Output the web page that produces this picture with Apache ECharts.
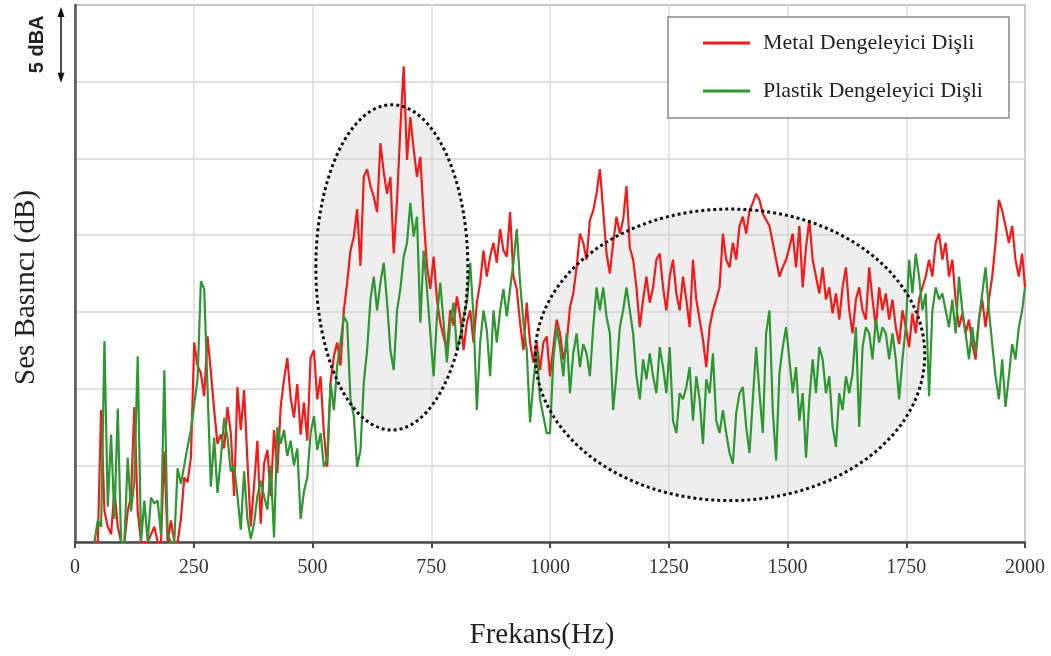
<!DOCTYPE html>
<html><head><meta charset="utf-8">
<script src="https://cdn.jsdelivr.net/npm/echarts@6/dist/echarts.min.js"></script>
<style>html,body{margin:0;padding:0;background:#fff}#c{width:1051px;height:656px}</style>
</head><body><div id="c"></div><script>
// Sampling grid: 41 Hz .. 1994 Hz every 7 Hz, plus the 2000 Hz end point
const FREQ_START = 41, FREQ_STEP = 7, FREQ_COUNT = 280, FREQ_END = 2000;
const seriesNames = ['Metal Dengeleyici Dişli', 'Plastik Dengeleyici Dişli'];
const xTickLabels = [0, 250, 500, 750, 1000, 1250, 1500, 1750, 2000];

// Sound pressure, dB above the plot floor (5 dB per gridline)
const metal = [
 0,0,8.6,2,1,0.5,3.4,1,0,0, 2,3,8.8,2,0,0,0,0.5,1,0, 0,5.9,0,1.4,0,0,1.5,4.2,3.9,5.5,
 13.0,11.5,11.0,9.5,13.4,11.1,8.6,6.4,7.0,6.1, 8.8,7.1,3.0,10.1,7.3,9.9,5.3,1.0,3.7,6.6,
 1.2,5.1,6.0,3.0,7.3,4.5,8.8,10.6,12.0,9.4, 8.1,10.3,7.0,9.1,6.6,
 12.0,12.5,9.3,10.8,7.1,4.9,10.4,12.1,13.0,11.5, 15.1,16.9,19.0,19.9,21.7,18.0,23.8,24.3,23.2,22.5,
 21.5,26.0,24.1,22.7,23.8,18.8,22.3,27.0,31.0,24.9, 27.7,25.6,23.8,25.1,21.2,18.0,16.5,18.6,15.8,14.3,
 13.4,12.5,15.1,14.1,16.0,14.7,12.5,14.3,15.1,13.0, 15.6,16.9,19.0,17.3,18.6,19.5,18.2,20.4,19.0,18.6,
 21.5,17.3,16.5,14.3,12.5,15.6,13.0,11.7,13.0,11.2, 13.0,13.4,
 10.8,12.7,14.5,13.6,11.9,12.9,15.3,16.2,17.9,20.1, 19.5,18.4,21.0,21.6,22.7,24.3,21.6,18.8,17.5,19.5,
 21.2,20.1,21.0,23.2,19.2,18.4,16.6,14.0,15.8,17.3, 15.6,16.6,18.4,18.8,16.6,15.1,17.3,18.4,16.2,15.1,
 17.3,15.8,14.0,18.4,15.8,14.5,13.2,11.4,14.0,15.1, 15.8,16.6,20.1,18.4,17.9,19.5,18.4,20.6,21.2,20.1,
 21.6,22.1,22.7,22.3,21.4,21.0,20.6,19.5,18.4,17.3, 17.9,
 18.4,19.2,20.1,17.9,20.6,16.6,19.2,21.0,18.4,17.3, 16.2,17.9,15.8,16.6,14.9,16.2,14.5,16.6,17.9,15.1,
 13.6,15.8,16.6,15.1,14.5,17.9,15.8,14.0,16.6,15.1, 16.2,14.5,15.8,14.0,12.9,15.1,14.0,12.7,14.9,13.6,
 15.8,16.6,17.3,18.4,17.3,19.5,20.1,18.4,19.5,17.3, 18.4,15.8,14.0,14.9,13.6,14.5,12.9,11.9,14.5,15.8,
 14.0,15.8,17.3,19.5,22.3,21.6,20.6,19.5,20.6,18.4, 17.3,18.8,
 16.6
];
const plastic = [
 0,1.4,1,13.1,2.3,7.0,1.5,8.7,0,0, 5.5,2,4,12.1,0,2.7,0,2.9,2.5,2.7, 0.5,11.2,0.5,0,0,4.8,3.8,5.0,6.2,7.3,
 9.0,10.6,17.0,16.5,10,3.6,6.8,3.2,5.4,8.1, 6.8,4.6,5.0,3.0,0.8,4.6,1.5,0.2,1.2,3.0,
 4.0,3.0,2.1,5.0,0.3,7.5,6.4,7.3,5.6,6.6, 5.0,6.1,1.5,3.3,4.2,
 7.1,8.2,6.0,7.1,4.9,5.4,10.4,8.6,11.5,13.0, 14.7,14.3,9.3,8.2,4.9,6.0,10.4,12.5,15.8,17.3,
 15.1,16.9,18.2,15.6,12.5,11.2,15.1,16.5,18.6,19.5, 22.1,19.9,21.2,14.3,19.0,16.5,13.6,10.8,14.7,16.9,
 14.3,11.7,14.3,15.6,12.5,13.4,14.7,15.6,18.2,14.7, 8.6,13.0,15.1,13.8,10.8,15.1,13.0,15.1,16.5,14.7,
 16.5,18.2,20.4,16.9,14.3,12.5,7.8,10.4,12.5,9.3, 8.2,7.1,
 7.1,11.9,14.0,12.7,10.8,13.6,9.7,12.3,13.6,11.4, 12.9,12.3,10.8,14.0,16.6,15.1,16.6,14.7,13.6,8.6,
 11.0,14.0,15.1,16.6,15.1,13.6,10.8,9.3,11.9,10.6, 12.3,10.8,9.7,12.7,11.4,9.7,12.7,7.9,7.1,9.7,
 9.3,10.1,11.4,7.9,10.8,9.3,6.4,10.6,9.7,12.3, 7.9,7.1,8.6,7.1,5.8,5.1,8.4,9.7,10.1,7.5,
 5.8,9.3,12.7,9.7,7.1,13.6,15.1,8.6,5.3,11.0, 12.7,
 14.0,11.9,9.7,11.4,7.9,9.7,5.5,9.3,11.9,9.7, 12.7,11.9,9.7,10.8,7.5,6.2,9.7,8.6,10.8,9.7,
 11.0,14.0,7.5,12.7,14.0,13.6,11.9,14.5,13.0,14.0, 13.6,11.9,13.6,11.9,9.3,11.9,14.0,18.4,16.2,18.8,
 17.3,15.1,16.2,9.5,15.1,16.6,15.8,16.2,15.1,14.0, 15.8,13.6,17.3,15.1,13.6,11.9,14.0,12.3,14.5,16.2,
 17.9,15.1,12.9,10.8,9.3,11.9,8.8,10.8,12.9,11.9, 14.0,15.1,
 16.6
];
// Highlighted regions (data units): centre freq, centre dB, half-width Hz, half-height dB
const regions = [
  {cf: 667, cv: 17.9, rf: 160, rv: 10.6},
  {cf: 1379, cv: 12.2, rf: 410, rv: 9.5}
];

const freqs = [];
for (let i = 0; i < FREQ_COUNT; i++) freqs.push(FREQ_START + FREQ_STEP * i);
freqs.push(FREQ_END);

const serif = 'Liberation Serif';
const chart = echarts.init(document.getElementById('c'), null, {renderer: 'canvas'});
const option = {
  animation: false,
  backgroundColor: '#fff',
  grid: {left: 75, right: 26, top: 5, bottom: 114, show: true, borderColor: '#9a9a9a', borderWidth: 2, backgroundColor: 'transparent'},
  legend: {
    data: seriesNames, orient: 'vertical', left: 668, top: 17,
    padding: [15, 26, 16, 35], itemGap: 26, itemWidth: 47, itemHeight: 3, icon: 'rect',
    backgroundColor: '#fff', borderColor: '#8a8a8a', borderWidth: 1.5,
    textStyle: {fontFamily: serif, fontSize: 22, color: '#222', padding: [0, 0, 0, 8]}
  },
  xAxis: {
    type: 'value', min: 0, max: 2000, interval: 250,
    name: 'Frekans(Hz)', nameLocation: 'middle', nameGap: 79,
    nameTextStyle: {fontFamily: serif, fontSize: 29, color: '#222', padding: [0, 16, 0, 0]},
    axisLine: {show: true, onZero: false, lineStyle: {color: '#4a4a4a', width: 2.5}},
    axisTick: {show: true, length: 6, lineStyle: {color: '#4a4a4a', width: 2}},
    axisLabel: {fontFamily: serif, fontSize: 20, color: '#333', margin: 16,
      formatter: v => xTickLabels.includes(v) ? String(v) : ''},
    splitLine: {show: true, lineStyle: {color: '#dcdcdc', width: 1.5}}
  },
  yAxis: {
    type: 'value', min: 0, max: 35, interval: 5,
    name: 'Ses Basıncı (dB)', nameLocation: 'middle', nameGap: 34,
    nameTextStyle: {fontFamily: serif, fontSize: 29, color: '#222', padding: [0, 28, 0, 0]},
    axisLine: {show: true, lineStyle: {color: '#555', width: 2.5}},
    axisTick: {show: false}, axisLabel: {show: false},
    splitLine: {show: true, lineStyle: {color: '#d6d6d6', width: 1.5}}
  },
  series: [
    {name: seriesNames[0], type: 'line', symbol: 'none', showSymbol: false, clip: true, z: 2,
     color: '#f41a1a', lineStyle: {width: 2.2, color: '#f41a1a'},
     data: freqs.map((f, i) => [f, metal[i]])},
    {name: seriesNames[1], type: 'line', symbol: 'none', showSymbol: false, clip: true, z: 3,
     color: '#2e9632', lineStyle: {width: 2.2, color: '#2e9632'},
     data: freqs.map((f, i) => [f, plastic[i]])}
  ]
};
chart.setOption(option);

const px = (f, v) => chart.convertToPixel({gridIndex: 0}, [f, v]);
const g = [];
regions.forEach(r => {
  const c = px(r.cf, r.cv);
  const rx = px(r.cf + r.rf, r.cv)[0] - c[0];
  const ry = c[1] - px(r.cf, r.cv + r.rv)[1];
  const shape = {cx: c[0], cy: c[1], rx: rx, ry: ry};
  g.push({type: 'ellipse', z: 1, silent: true, shape: shape,
    style: {fill: 'rgba(205,205,205,0.35)', stroke: null}});
  g.push({type: 'ellipse', z: 10, silent: true, shape: shape,
    style: {fill: null, stroke: '#111', lineWidth: 3, lineDash: [3, 3]}});
});
// 5 dBA scale arrow spanning one gridline interval
const yTop = px(0, 35)[1], yBot = px(0, 30)[1];
const ax = px(0, 0)[0] - 14;
g.push({type: 'line', z: 10, shape: {x1: ax, y1: yTop + 4, x2: ax, y2: yBot - 2}, style: {stroke: '#111', lineWidth: 1.5}});
g.push({type: 'polygon', z: 10, shape: {points: [[ax, yTop + 2], [ax - 3.5, yTop + 12], [ax + 3.5, yTop + 12]]}, style: {fill: '#111'}});
g.push({type: 'polygon', z: 10, shape: {points: [[ax, yBot + 1], [ax - 3.5, yBot - 9], [ax + 3.5, yBot - 9]]}, style: {fill: '#111'}});
g.push({type: 'text', z: 10, x: ax - 24, y: (yTop + yBot) / 2 + 1, rotation: Math.PI / 2,
  style: {text: '5 dBA', fontFamily: 'Liberation Sans', fontWeight: 'bold', fontSize: 20, fill: '#222', align: 'center', verticalAlign: 'middle'}});
chart.setOption({graphic: g});
</script></body></html>
